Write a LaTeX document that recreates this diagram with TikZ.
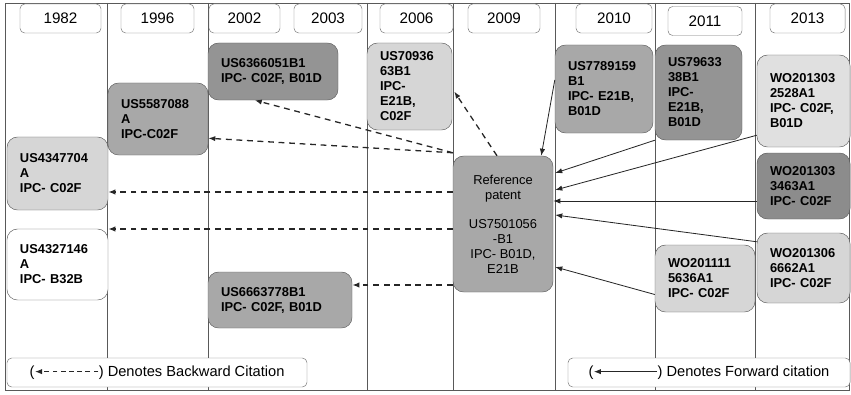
\documentclass[tikz,border=0pt]{standalone}
\usepackage{fontspec}
\setmainfont{Liberation Sans}
\usetikzlibrary{arrows.meta,calc}

\definecolor{boxdark}{gray}{0.58}
\definecolor{boxdarker}{gray}{0.55}
\definecolor{boxmid}{gray}{0.66}
\definecolor{boxlight}{gray}{0.84}
\definecolor{boxpale}{gray}{0.88}
\definecolor{rulegray}{gray}{0.35}

\begin{document}
\begin{tikzpicture}[x=0.03cm, y=-0.03cm, >={Latex[length=6pt,width=4.5pt]},
  yearbox/.style={draw=black!55, rounded corners=4pt, fill=white, minimum height=0.87cm, font=\fontsize{13}{13}\selectfont},
  patent/.style={draw=black!65, rounded corners=9pt, align=left, inner xsep=0.39cm, inner ysep=0pt, font=\fontsize{11}{12.8}\selectfont\bfseries},
  refbox/.style={draw=black!65, rounded corners=9pt, align=center, fill=boxmid, minimum width=3cm, minimum height=4.08cm, font=\fontsize{11}{12.8}\selectfont},
  legend/.style={draw=black!55, rounded corners=4pt, fill=white, minimum height=0.87cm, font=\fontsize{12.5}{13}\selectfont},
  back/.style={->, dashed, line width=1.1pt, dash pattern=on 5pt off 4pt, black!85},
  fwd/.style={->, line width=0.7pt, black!85}]
\useasboundingbox (0,0) rectangle (851,394);

% frame and year columns
\draw[rulegray] (5,3) rectangle (849,390);
\foreach \x in {107,208,367,453,555,655,755}
  \draw[rulegray] (\x,3) -- (\x,390);

% years
\node[yearbox, minimum width=2.43cm] (y1982) at (60.5,18.5) {1982};
\node[yearbox, minimum width=2.19cm] (y1996) at (157.5,18.5) {1996};
\node[yearbox, minimum width=2.13cm] (y2002) at (244.5,18.5) {2002};
\node[yearbox, minimum width=2.04cm] (y2003) at (328,18.5) {2003};
\node[yearbox, minimum width=2.19cm] (y2006) at (416.5,18.5) {2006};
\node[yearbox, minimum width=2.16cm] (y2009) at (504,18.5) {2009};
\node[yearbox, minimum width=2.28cm] (y2010) at (614,18.5) {2010};
\node[yearbox, minimum width=2.22cm] (y2011) at (705,21) {2011};
\node[yearbox, minimum width=2.25cm] (y2013) at (807.5,18.5) {2013};

% cited patents
\node[patent, fill=boxlight, text width=2.25cm, minimum height=2.19cm] (p82a) at (57.5,173.5) {US4347704\\A\\IPC- C02F};
\node[patent, fill=white, text width=2.25cm, minimum height=2.13cm] (p82b) at (57.5,264.5) {US4327146\\A\\IPC- B32B};
\node[patent, fill=boxmid, text width=2.22cm, minimum height=2.16cm] (p96) at (158,119) {US5587088\\A\\IPC-C02F};
\node[patent, fill=boxdark, text width=3.12cm, minimum height=1.71cm] (p02a) at (273,71.5) {US6366051B1\\IPC- C02F, B01D};
\node[patent, fill=boxmid, text width=3.54cm, minimum height=1.68cm] (p02b) at (280,300) {US6663778B1\\IPC- C02F, B01D};
\node[patent, fill=boxlight, text width=1.77cm, minimum height=2.61cm] (p06) at (409.5,86.5) {US70936\\63B1\\IPC-\\E21B,\\C02F};

% reference patent
\node[refbox] (ref) at (503,224) {Reference\\patent\\[12pt]US7501056\\-B1\\IPC- B01D,\\E21B};

% citing patents
\node[patent, fill=boxmid, text width=2.16cm, minimum height=2.64cm] (p10) at (604,89) {US7789159\\B1\\IPC- E21B,\\B01D};
\node[patent, fill=boxdark, text width=1.83cm, minimum height=2.85cm] (p11a) at (698.5,92.5) {US79633\\38B1\\IPC-\\E21B,\\B01D};
\node[patent, fill=boxlight, text width=2.22cm, minimum height=2.01cm] (p11b) at (705,278.5) {WO201111\\5636A1\\IPC- C02F};
\node[patent, fill=boxpale, text width=2.01cm, minimum height=2.76cm] (p13a) at (803.5,101) {WO201303\\2528A1\\IPC- C02F,\\B01D};
\node[patent, fill=boxdarker, text width=2.01cm, minimum height=1.98cm] (p13b) at (803.5,186) {WO201303\\3463A1\\IPC- C02F};
\node[patent, fill=boxlight, text width=2.01cm, minimum height=2.1cm] (p13c) at (803.5,268) {WO201306\\6662A1\\IPC- C02F};

% backward citations
\coordinate (rb0) at ($(ref.north west)+(0,-3)$);
\coordinate (rw1) at ($(ref.west)+(0,-32)$);
\coordinate (rw2) at ($(ref.west)+(0,5)$);
\coordinate (rw3) at ($(ref.west)+(0,61)$);
\draw[back] (rb0) -- ($(p02a.south west)+(47,0)$);
\draw[back] (rb0) -- ($(p96.south east)+(0,-17)$);
\draw[back] (rw1) -- (p82a.east |- rw1);
\draw[back] (rw2) -- (p82b.east |- rw2);
\draw[back] (rw3) -- (p02b.east |- rw3);
\draw[back] ($(ref.north)+(-6,0)$) -- ($(p06.east)+(2,5)$);

% forward citations
\coordinate (fw4) at ($(p13b.west)+(0,15)$);
\draw[fwd] ($(p10.west)+(0,-9)$) -- ($(ref.north east)+(-12,0)$);
\draw[fwd] (p11a.south west) -- ($(ref.east)+(2,-51)$);
\draw[fwd] ($(p13a.south west)+(0,-12)$) -- ($(ref.east)+(2,-34)$);
\draw[fwd] (fw4) -- (ref.east |- fw4);
\draw[fwd] ($(p13c.north west)+(0,9)$) -- ($(ref.east)+(2,-9)$);
\draw[fwd] ($(p11b.west)+(0,16)$) -- ($(ref.east)+(2,43)$);

% legend
\node[legend, minimum width=9cm] (legback) at (157,372.5)
  {(\tikz[x=1cm,y=1cm,baseline=-0.6ex]\draw[->, dashed, line width=0.9pt, dash pattern=on 4pt off 3pt, black!85] (1.9cm,0) -- (0,0);) Denotes Backward Citation};
\node[legend, minimum width=8.46cm] (legfwd) at (709,372.5)
  {(\tikz[x=1cm,y=1cm,baseline=-0.6ex]\draw[->, line width=0.7pt, black!85] (1.9cm,0) -- (0,0);) Denotes Forward citation};
\end{tikzpicture}
\end{document}
